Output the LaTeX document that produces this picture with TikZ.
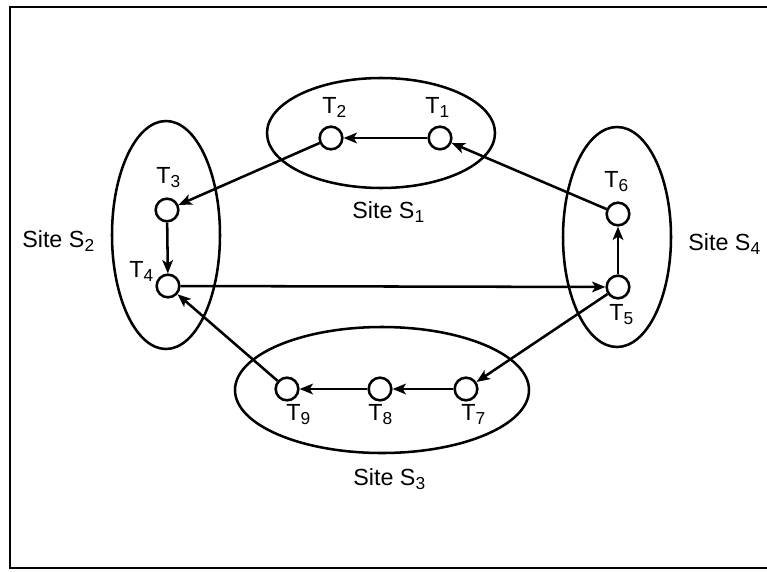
\documentclass[tikz,border=0pt]{standalone}
\usepackage{fontspec}
\setmainfont{Liberation Sans}
\usetikzlibrary{arrows.meta}
\newcommand{\sbs}[1]{\raisebox{-3.4pt}{\fontsize{13}{13}\selectfont #1}}
\tikzset{
  task/.style={circle,draw,line width=1.9pt,minimum size=17pt,inner sep=0pt},
  site/.style={draw,line width=1.9pt},
  lbl/.style={anchor=base west,inner sep=0pt,font=\fontsize{17.5}{19}\selectfont},
  flow/.style={line width=1.9pt,-{Stealth[length=10pt,width=8pt,inset=2.5pt]}},
  frame/.style={line width=2.2pt}
}
\begin{document}
\begin{tikzpicture}[x=0.75pt,y=-0.75pt]
\useasboundingbox (0,0) rectangle (767,571);
\coordinate (fa) at (767,7);
\coordinate (fb) at (10,7);
\coordinate (fc) at (10,568);
\coordinate (fd) at (767,568);
\draw[frame] (fa) -- (fb) -- (fc) -- (fd);
% sites
\draw[site] (381,133) ellipse [x radius=114, y radius=55];
\draw[site] (166,235) ellipse [x radius=54, y radius=114];
\draw[site] (617,237) ellipse [x radius=54, y radius=110];
\draw[site] (382,390) ellipse [x radius=147, y radius=63];
% tasks
\node[task] (t1) at (440,138) {};
\node[task] (t2) at (331,138) {};
\node[task] (t3) at (167,210) {};
\node[task] (t4) at (168,286) {};
\node[task] (t5) at (618,287) {};
\node[task] (t6) at (618,214) {};
\node[task] (t7) at (466,389) {};
\node[task] (t8) at (380,389) {};
\node[task] (t9) at (287,389) {};
% task labels
\node[lbl] (l1) at (425,113) {T\sbs{1}};
\node[lbl] (l2) at (322,113) {T\sbs{2}};
\node[lbl] (l3) at (156,183) {T\sbs{3}};
\node[lbl] (l4) at (129,277) {T\sbs{4}};
\node[lbl] (l5) at (609,320) {T\sbs{5}};
\node[lbl] (l6) at (604,187) {T\sbs{6}};
\node[lbl] (l7) at (461,420) {T\sbs{7}};
\node[lbl] (l8) at (368,420) {T\sbs{8}};
\node[lbl] (l9) at (286,420) {T\sbs{9}};
% site labels
\node[lbl] (s1) at (352,218) {Site S\sbs{1}};
\node[lbl] (s2) at (22,247) {Site S\sbs{2}};
\node[lbl] (s3) at (353,485) {Site S\sbs{3}};
\node[lbl] (s4) at (688,250) {Site S\sbs{4}};
% flows
\draw[flow] (t1) -- (t2);
\draw[flow] (t2) -- (t3);
\draw[flow] (t3) -- (t4);
\draw[flow] (t4) -- (t5);
\draw[flow] (t5) -- (t6);
\draw[flow] (t6) -- (t1);
\draw[flow] (t5) -- (t7);
\draw[flow] (t7) -- (t8);
\draw[flow] (t8) -- (t9);
\draw[flow] (t9) -- (t4);
\end{tikzpicture}
\end{document}
